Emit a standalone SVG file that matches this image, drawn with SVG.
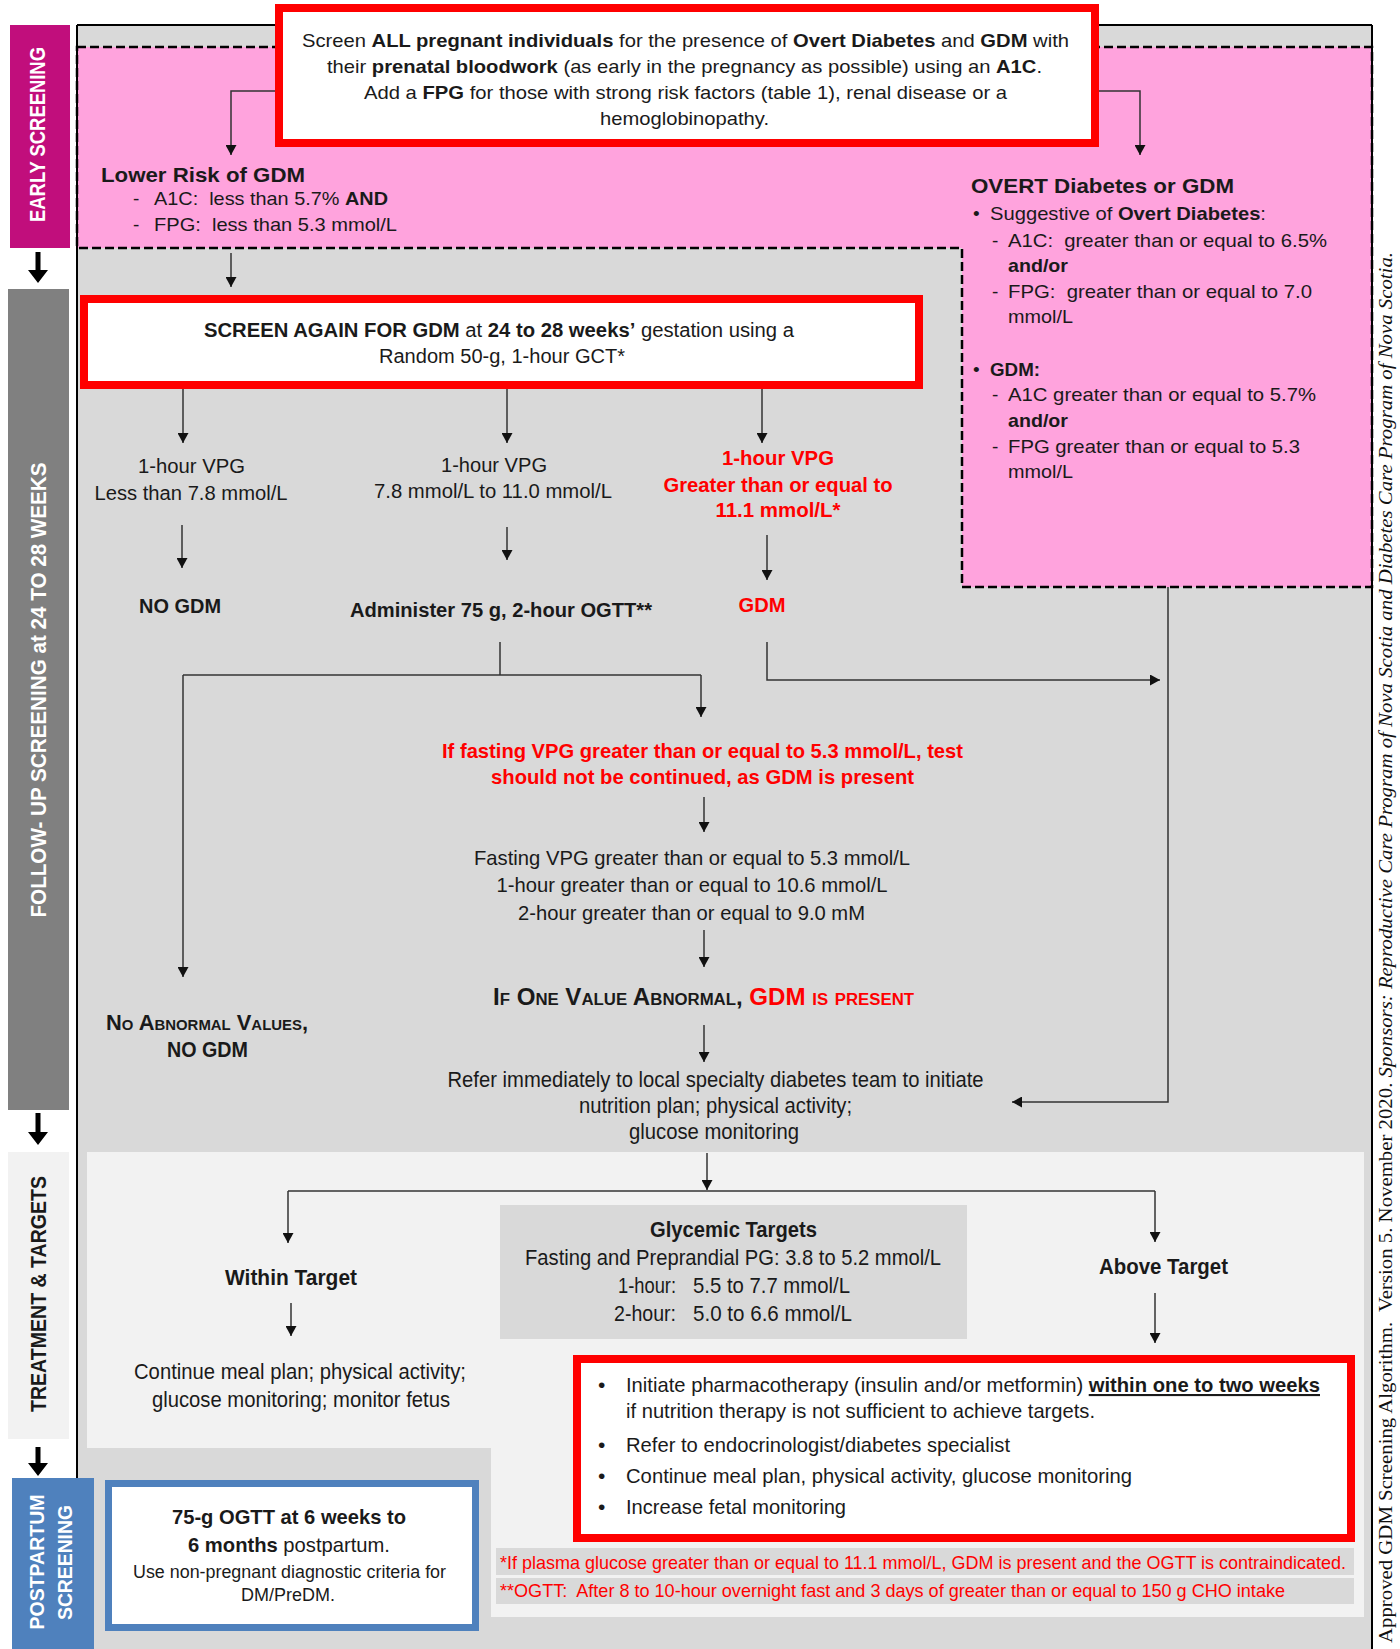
<svg xmlns="http://www.w3.org/2000/svg" width="1400" height="1649" viewBox="0 0 1400 1649">
<style>
.s{font-family:'Liberation Sans Narrow','Liberation Sans',Arial,sans-serif;fill:#1a1a1a}
.b{font-weight:bold}
.r{fill:#ff0000}
.w{fill:#ffffff}
.c{text-anchor:middle}
.sc{font-variant:small-caps}
.serif{font-family:'Liberation Serif','Times New Roman',serif;fill:#111}
.u{text-decoration:underline}
</style>
<defs>
<marker id="ah" markerUnits="userSpaceOnUse" markerWidth="11" markerHeight="11" refX="10" refY="5.5" orient="auto"><path d="M0,0 L10,5.5 L0,11 z" fill="#111"/></marker>
</defs>

<!-- backgrounds -->
<g id="background">
<rect x="0" y="0" width="1400" height="1649" fill="#ffffff"/>
<rect x="77" y="25" width="1295" height="1624" fill="#d9d9d9"/>
<polygon points="87,1152 1364,1152 1364,1617 491,1617 491,1448 87,1448" fill="#f2f2f2"/>
<polygon points="77,47 1372,47 1372,587 962,587 962,248 77,248" fill="#ffa3dd" stroke="#000" stroke-width="2.5" stroke-dasharray="9,4"/>
<line x1="77" y1="25" x2="1372" y2="25" stroke="#000" stroke-width="2"/>
<line x1="77" y1="25" x2="77" y2="1478" stroke="#000" stroke-width="2"/>
<line x1="1372" y1="25" x2="1372" y2="1649" stroke="#000" stroke-width="2"/>
</g>

<!-- left phase bars -->
<g id="bar-early">
<rect x="10" y="25" width="60" height="223" fill="#c10e7c"/>
<text class="s b w c" font-size="22" transform="translate(37,134.5) rotate(-90)" x="0" y="8" textLength="175" lengthAdjust="spacingAndGlyphs">EARLY SCREENING</text>
</g>
<g id="bar-followup">
<rect x="8" y="289" width="61" height="821" fill="#808080"/>
<text class="s b w c" font-size="22" transform="translate(37.5,690) rotate(-90)" x="0" y="8" textLength="455" lengthAdjust="spacingAndGlyphs">FOLLOW- UP SCREENING at 24 TO 28 WEEKS</text>
</g>
<g id="bar-treatment">
<rect x="8" y="1152" width="61" height="287" fill="#f2f2f2"/>
<text class="s b c" font-size="22" transform="translate(37.5,1294) rotate(-90)" x="0" y="8" textLength="236" lengthAdjust="spacingAndGlyphs">TREATMENT &amp; TARGETS</text>
</g>
<g id="bar-postpartum">
<rect x="12" y="1478" width="82" height="171" fill="#4f81bd"/>
<text class="s b w c" font-size="21" transform="translate(36,1562) rotate(-90)" x="0" y="7.5" textLength="135" lengthAdjust="spacingAndGlyphs">POSTPARTUM</text>
<text class="s b w c" font-size="21" transform="translate(64,1562.5) rotate(-90)" x="0" y="7.5" textLength="115" lengthAdjust="spacingAndGlyphs">SCREENING</text>
</g>
<g id="phase-arrows" fill="#000">
<polygon points="35.5,252 40.5,252 40.5,270 48,270 38,283 28,270 35.5,270"/>
<polygon points="35.5,1113 40.5,1113 40.5,1132 48,1132 38,1145 28,1132 35.5,1132"/>
<polygon points="35.5,1447 40.5,1447 40.5,1463 48,1463 38,1476 28,1463 35.5,1463"/>
</g>

<!-- connectors -->
<g id="connectors" fill="none" stroke="#333" stroke-width="1.5">
<polyline points="275,91 231,91 231,155" marker-end="url(#ah)"/>
<polyline points="1099,91 1140,91 1140,155" marker-end="url(#ah)"/>
<line x1="231" y1="253" x2="231" y2="287" marker-end="url(#ah)"/>
<line x1="183" y1="389" x2="183" y2="443" marker-end="url(#ah)"/>
<line x1="507" y1="389" x2="507" y2="443" marker-end="url(#ah)"/>
<line x1="762" y1="389" x2="762" y2="443" marker-end="url(#ah)"/>
<line x1="182" y1="525" x2="182" y2="568" marker-end="url(#ah)"/>
<line x1="507" y1="527" x2="507" y2="560" marker-end="url(#ah)"/>
<line x1="767" y1="535" x2="767" y2="580" marker-end="url(#ah)"/>
<line x1="500" y1="642" x2="500" y2="675"/>
<line x1="183" y1="675" x2="701" y2="675"/>
<line x1="701" y1="675" x2="701" y2="717" marker-end="url(#ah)"/>
<line x1="183" y1="675" x2="183" y2="977" marker-end="url(#ah)"/>
<polyline points="767,642 767,680 1160,680" marker-end="url(#ah)"/>
<polyline points="1168,587 1168,1102 1012,1102" marker-end="url(#ah)"/>
<line x1="704" y1="797" x2="704" y2="832" marker-end="url(#ah)"/>
<line x1="704" y1="930" x2="704" y2="967" marker-end="url(#ah)"/>
<line x1="704" y1="1025" x2="704" y2="1062" marker-end="url(#ah)"/>
<line x1="707" y1="1153" x2="707" y2="1190" marker-end="url(#ah)"/>
<line x1="288" y1="1191" x2="1155" y2="1191"/>
<line x1="288" y1="1191" x2="288" y2="1243" marker-end="url(#ah)"/>
<line x1="1155" y1="1191" x2="1155" y2="1242" marker-end="url(#ah)"/>
<line x1="291" y1="1303" x2="291" y2="1336" marker-end="url(#ah)"/>
<line x1="1155" y1="1293" x2="1155" y2="1343" marker-end="url(#ah)"/>
</g>

<!-- nodes -->
<g id="node-screen-all">
<rect x="279" y="8" width="816" height="135" fill="#ffffff" stroke="#ff0000" stroke-width="8"/>
<text class="s c" font-size="19" x="685.5" y="47" textLength="767" lengthAdjust="spacingAndGlyphs">Screen <tspan class="b">ALL pregnant individuals</tspan> for the presence of <tspan class="b">Overt Diabetes</tspan> and <tspan class="b">GDM</tspan> with</text>
<text class="s c" font-size="19" x="684.5" y="73" textLength="715" lengthAdjust="spacingAndGlyphs">their <tspan class="b">prenatal bloodwork</tspan> (as early in the pregnancy as possible) using an <tspan class="b">A1C</tspan>.</text>
<text class="s c" font-size="19" x="685.5" y="99" textLength="643" lengthAdjust="spacingAndGlyphs">Add a <tspan class="b">FPG</tspan> for those with strong risk factors (table 1), renal disease or a</text>
<text class="s c" font-size="19" x="684.5" y="125" textLength="169" lengthAdjust="spacingAndGlyphs">hemoglobinopathy.</text>
</g>

<g id="node-lower-risk">
<text class="s b" font-size="21" x="101" y="182" textLength="204" lengthAdjust="spacingAndGlyphs">Lower Risk of GDM</text>
<text class="s" font-size="19" x="133" y="205">-</text>
<text class="s" font-size="19" x="154" y="205" textLength="234" lengthAdjust="spacingAndGlyphs">A1C:&#160; less than 5.7% <tspan class="b">AND</tspan></text>
<text class="s" font-size="19" x="133" y="231">-</text>
<text class="s" font-size="19" x="154" y="231" textLength="243" lengthAdjust="spacingAndGlyphs">FPG:&#160; less than 5.3 mmol/L</text>
</g>

<g id="node-overt">
<text class="s b" font-size="21" x="971" y="193" textLength="263" lengthAdjust="spacingAndGlyphs">OVERT Diabetes or GDM</text>
<text class="s" font-size="19" x="973" y="220">•</text>
<text class="s" font-size="19" x="990" y="220" textLength="276" lengthAdjust="spacingAndGlyphs">Suggestive of <tspan class="b">Overt Diabetes</tspan>:</text>
<text class="s" font-size="19" x="992" y="247">-</text>
<text class="s" font-size="19" x="1008" y="247" textLength="319" lengthAdjust="spacingAndGlyphs">A1C:&#160; greater than or equal to 6.5%</text>
<text class="s b" font-size="19" x="1008" y="272" textLength="60" lengthAdjust="spacingAndGlyphs">and/or</text>
<text class="s" font-size="19" x="992" y="298">-</text>
<text class="s" font-size="19" x="1008" y="298" textLength="304" lengthAdjust="spacingAndGlyphs">FPG:&#160; greater than or equal to 7.0</text>
<text class="s" font-size="19" x="1008" y="323" textLength="65" lengthAdjust="spacingAndGlyphs">mmol/L</text>
<text class="s" font-size="19" x="973" y="376">•</text>
<text class="s b" font-size="19" x="990" y="376" textLength="50" lengthAdjust="spacingAndGlyphs">GDM:</text>
<text class="s" font-size="19" x="992" y="401">-</text>
<text class="s" font-size="19" x="1008" y="401" textLength="308" lengthAdjust="spacingAndGlyphs">A1C greater than or equal to 5.7%</text>
<text class="s b" font-size="19" x="1008" y="427" textLength="60" lengthAdjust="spacingAndGlyphs">and/or</text>
<text class="s" font-size="19" x="992" y="453">-</text>
<text class="s" font-size="19" x="1008" y="453" textLength="292" lengthAdjust="spacingAndGlyphs">FPG greater than or equal to 5.3</text>
<text class="s" font-size="19" x="1008" y="478" textLength="65" lengthAdjust="spacingAndGlyphs">mmol/L</text>
</g>

<g id="node-screen-again">
<rect x="84" y="299" width="835" height="86" fill="#ffffff" stroke="#ff0000" stroke-width="8"/>
<text class="s c" font-size="19.5" x="499" y="337" textLength="590" lengthAdjust="spacingAndGlyphs"><tspan class="b">SCREEN AGAIN FOR GDM</tspan> at <tspan class="b">24 to 28 weeks’</tspan> gestation using a</text>
<text class="s c" font-size="19.5" x="502" y="363" textLength="246" lengthAdjust="spacingAndGlyphs">Random 50-g, 1-hour GCT*</text>
</g>

<g id="node-vpg-low">
<text class="s c" font-size="19.5" x="191.5" y="473" textLength="107" lengthAdjust="spacingAndGlyphs">1-hour VPG</text>
<text class="s c" font-size="19.5" x="191" y="500" textLength="193" lengthAdjust="spacingAndGlyphs">Less than 7.8 mmol/L</text>
</g>
<g id="node-vpg-mid">
<text class="s c" font-size="19.5" x="494" y="472" textLength="106" lengthAdjust="spacingAndGlyphs">1-hour VPG</text>
<text class="s c" font-size="19.5" x="493" y="498" textLength="238" lengthAdjust="spacingAndGlyphs">7.8 mmol/L to 11.0 mmol/L</text>
</g>
<g id="node-vpg-high">
<text class="s b r c" font-size="19.5" x="778" y="465" textLength="112" lengthAdjust="spacingAndGlyphs">1-hour VPG</text>
<text class="s b r c" font-size="19.5" x="778" y="492" textLength="229" lengthAdjust="spacingAndGlyphs">Greater than or equal to</text>
<text class="s b r c" font-size="19.5" x="778" y="517" textLength="125" lengthAdjust="spacingAndGlyphs">11.1 mmol/L*</text>
</g>
<g id="node-no-gdm">
<text class="s b c" font-size="20" x="180" y="613" textLength="82" lengthAdjust="spacingAndGlyphs">NO GDM</text>
</g>
<g id="node-administer">
<text class="s b c" font-size="20" x="501" y="617" textLength="302" lengthAdjust="spacingAndGlyphs">Administer 75 g, 2-hour OGTT**</text>
</g>
<g id="node-gdm">
<text class="s b r c" font-size="20" x="762" y="612" textLength="47" lengthAdjust="spacingAndGlyphs">GDM</text>
</g>

<g id="node-fasting-warning">
<text class="s b r c" font-size="21" x="702.5" y="758" textLength="521" lengthAdjust="spacingAndGlyphs">If fasting VPG greater than or equal to 5.3 mmol/L, test</text>
<text class="s b r c" font-size="21" x="702.5" y="784" textLength="423" lengthAdjust="spacingAndGlyphs">should not be continued, as GDM is present</text>
</g>
<g id="node-ogtt-criteria">
<text class="s c" font-size="21" x="692" y="865" textLength="436" lengthAdjust="spacingAndGlyphs">Fasting VPG greater than or equal to 5.3 mmol/L</text>
<text class="s c" font-size="21" x="692" y="892" textLength="391" lengthAdjust="spacingAndGlyphs">1-hour greater than or equal to 10.6 mmol/L</text>
<text class="s c" font-size="21" x="691.5" y="920" textLength="347" lengthAdjust="spacingAndGlyphs">2-hour greater than or equal to 9.0 mM</text>
</g>
<g id="node-one-abnormal">
<text class="s b c sc" font-size="23" x="703.5" y="1005" textLength="421" lengthAdjust="spacingAndGlyphs">If One Value Abnormal, <tspan class="r">GDM is present</tspan></text>
</g>
<g id="node-no-abnormal">
<text class="s b c sc" font-size="22" x="207" y="1030" textLength="202" lengthAdjust="spacingAndGlyphs">No Abnormal Values,</text>
<text class="s b c" font-size="22" x="207.5" y="1057" textLength="81" lengthAdjust="spacingAndGlyphs">NO GDM</text>
</g>
<g id="node-refer">
<text class="s c" font-size="21.5" x="715.5" y="1087" textLength="536" lengthAdjust="spacingAndGlyphs">Refer immediately to local specialty diabetes team to initiate</text>
<text class="s c" font-size="21.5" x="715.5" y="1113" textLength="273" lengthAdjust="spacingAndGlyphs">nutrition plan; physical activity;</text>
<text class="s c" font-size="21.5" x="714" y="1139" textLength="170" lengthAdjust="spacingAndGlyphs">glucose monitoring</text>
</g>

<g id="node-within-target">
<text class="s b c" font-size="22" x="291" y="1285" textLength="132" lengthAdjust="spacingAndGlyphs">Within Target</text>
</g>
<g id="node-continue">
<text class="s c" font-size="21.5" x="300" y="1379" textLength="332" lengthAdjust="spacingAndGlyphs">Continue meal plan; physical activity;</text>
<text class="s c" font-size="21.5" x="301" y="1407" textLength="298" lengthAdjust="spacingAndGlyphs">glucose monitoring; monitor fetus</text>
</g>
<g id="node-glycemic-targets">
<rect x="500" y="1205" width="467" height="134" fill="#d9d9d9"/>
<text class="s b c" font-size="21.5" x="733.5" y="1237" textLength="167" lengthAdjust="spacingAndGlyphs">Glycemic Targets</text>
<text class="s c" font-size="21.5" x="733" y="1265" textLength="416" lengthAdjust="spacingAndGlyphs">Fasting and Preprandial PG: 3.8 to 5.2 mmol/L</text>
<text class="s" font-size="21.5" x="618" y="1293" textLength="58" lengthAdjust="spacingAndGlyphs">1-hour:</text>
<text class="s" font-size="21.5" x="693" y="1293" textLength="157" lengthAdjust="spacingAndGlyphs">5.5 to 7.7 mmol/L</text>
<text class="s" font-size="21.5" x="614" y="1321" textLength="62" lengthAdjust="spacingAndGlyphs">2-hour:</text>
<text class="s" font-size="21.5" x="693" y="1321" textLength="159" lengthAdjust="spacingAndGlyphs">5.0 to 6.6 mmol/L</text>
</g>
<g id="node-above-target">
<text class="s b c" font-size="22" x="1163.5" y="1274" textLength="129" lengthAdjust="spacingAndGlyphs">Above Target</text>
</g>
<g id="node-pharmacotherapy">
<rect x="577" y="1359" width="774" height="179" fill="#ffffff" stroke="#ff0000" stroke-width="8"/>
<text class="s" font-size="21" x="598" y="1392">•</text>
<text class="s" font-size="21" x="626" y="1392" textLength="694" lengthAdjust="spacingAndGlyphs">Initiate pharmacotherapy (insulin and/or metformin) <tspan class="b u">within one to two weeks</tspan></text>
<text class="s" font-size="21" x="626" y="1418" textLength="469" lengthAdjust="spacingAndGlyphs">if nutrition therapy is not sufficient to achieve targets.</text>
<text class="s" font-size="21" x="598" y="1452">•</text>
<text class="s" font-size="21" x="626" y="1452" textLength="384" lengthAdjust="spacingAndGlyphs">Refer to endocrinologist/diabetes specialist</text>
<text class="s" font-size="21" x="598" y="1483">•</text>
<text class="s" font-size="21" x="626" y="1483" textLength="506" lengthAdjust="spacingAndGlyphs">Continue meal plan, physical activity, glucose monitoring</text>
<text class="s" font-size="21" x="598" y="1514">•</text>
<text class="s" font-size="21" x="626" y="1514" textLength="220" lengthAdjust="spacingAndGlyphs">Increase fetal monitoring</text>
</g>
<g id="node-footnotes">
<rect x="496" y="1548" width="858" height="27" fill="#d9d9d9"/>
<rect x="496" y="1578" width="858" height="26" fill="#d9d9d9"/>
<text class="s r" font-size="18.5" x="500" y="1569" textLength="846" lengthAdjust="spacingAndGlyphs">*If plasma glucose greater than or equal to 11.1 mmol/L, GDM is present and the OGTT is contraindicated.</text>
<text class="s r" font-size="18.5" x="500" y="1597" textLength="785" lengthAdjust="spacingAndGlyphs">**OGTT:&#160; After 8 to 10-hour overnight fast and 3 days of greater than or equal to 150 g CHO intake</text>
</g>
<g id="node-postpartum">
<rect x="108.5" y="1483.5" width="367" height="144" fill="#ffffff" stroke="#4f81bd" stroke-width="7"/>
<text class="s b c" font-size="21" x="289" y="1524" textLength="234" lengthAdjust="spacingAndGlyphs">75-g OGTT at 6 weeks to</text>
<text class="s c" font-size="21" x="289" y="1552" textLength="202" lengthAdjust="spacingAndGlyphs"><tspan class="b">6 months</tspan> postpartum.</text>
<text class="s c" font-size="17.5" x="289.5" y="1578" textLength="313" lengthAdjust="spacingAndGlyphs">Use non-pregnant diagnostic criteria for</text>
<text class="s c" font-size="17.5" x="288" y="1601" textLength="94" lengthAdjust="spacingAndGlyphs">DM/PreDM.</text>
</g>

<g id="sidebar-credit">
<text class="serif" font-size="19" transform="translate(1392,1643) rotate(-90)" x="0" y="0" textLength="1391" lengthAdjust="spacingAndGlyphs">Approved GDM Screening Algorithm.&#160; Version 5. November 2020. <tspan font-style="italic">Sponsors: Reproductive Care Program of Nova Scotia and Diabetes Care Program of Nova Scotia.</tspan></text>
</g>
</svg>
